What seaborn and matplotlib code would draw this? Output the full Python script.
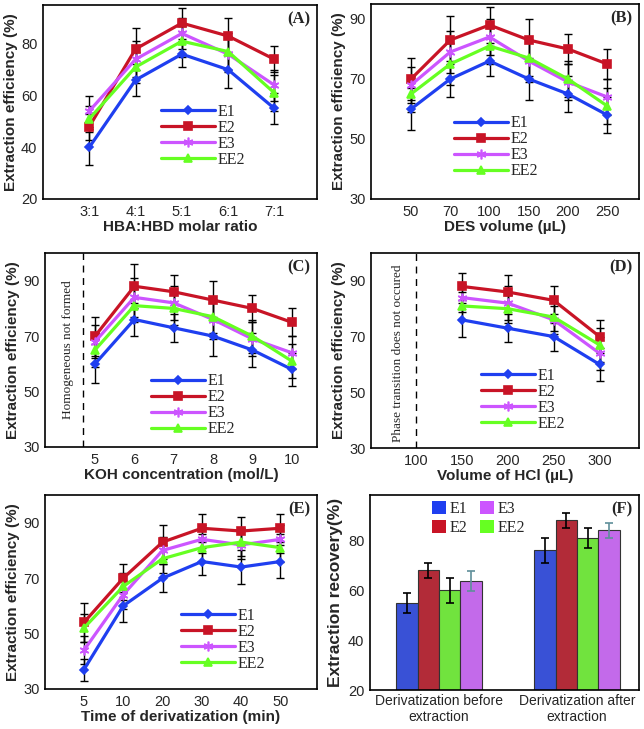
import matplotlib
matplotlib.use("Agg")
import matplotlib.pyplot as plt
import numpy as np
import pandas as pd
import seaborn as sns
from matplotlib.lines import Line2D
from matplotlib.patches import Patch

# ---------------- data ----------------
SERIES = ["E1", "E2", "E3", "EE2"]

# (A) HBA:HBD molar ratio
a_labels = ["3:1", "4:1", "5:1", "6:1", "7:1"]
a_means = {"E1": [40, 66, 76, 70, 55], "E2": [48, 78, 88, 83, 74],
           "E3": [54, 74, 84, 76, 64], "EE2": [51, 71, 81, 77, 61]}
a_errs = {"E1": [7, 6, 5, 7, 6], "E2": [5, 8, 6, 7, 5],
          "E3": [6, 7, 6, 7, 6], "EE2": [5, 6, 6, 7, 7]}

# (B) DES volume
b_labels = ["50", "70", "100", "150", "200", "250"]
b_means = {"E1": [60, 70, 76, 70, 65, 58], "E2": [70, 83, 88, 83, 80, 75],
           "E3": [68, 79, 84, 76, 69, 64], "EE2": [65, 75, 81, 77, 70, 61]}
b_errs = {"E1": [7, 6, 5, 7, 6, 6], "E2": [7, 8, 6, 7, 5, 5],
          "E3": [6, 7, 6, 7, 6, 6], "EE2": [6, 7, 6, 6, 6, 6]}

# (C) KOH concentration
c_x = [5, 6, 7, 8, 9, 10]
c_means = {"E1": [60, 76, 73, 70, 65, 58], "E2": [70, 88, 86, 83, 80, 75],
           "E3": [68, 84, 82, 76, 69, 64], "EE2": [65, 81, 80, 77, 70, 61]}
c_errs = {"E1": [7, 6, 5, 7, 6, 6], "E2": [7, 8, 6, 7, 5, 5],
          "E3": [6, 7, 6, 7, 6, 6], "EE2": [6, 6, 6, 6, 6, 6]}
c_limit = 4.7

# (D) volume of HCl
d_x = [150, 200, 250, 300]
d_means = {"E1": [76, 73, 70, 60], "E2": [88, 86, 83, 70],
           "E3": [84, 82, 76, 64], "EE2": [81, 80, 77, 67]}
d_errs = {"E1": [6, 5, 5, 6], "E2": [5, 6, 5, 6],
          "E3": [5, 6, 5, 6], "EE2": [5, 5, 5, 6]}
d_limit = 100

# (E) time of derivatization
e_labels = ["5", "10", "20", "30", "40", "50"]
e_means = {"E1": [37, 60, 70, 76, 74, 76], "E2": [54, 70, 83, 88, 87, 88],
           "E3": [44, 64, 80, 84, 82, 84], "EE2": [52, 67, 77, 81, 83, 81]}
e_errs = {"E1": [4, 6, 5, 5, 6, 6], "E2": [7, 5, 6, 5, 5, 5],
          "E3": [5, 5, 5, 5, 5, 5], "EE2": [5, 5, 5, 5, 5, 5]}

# (F) derivatization order (bars)
f_groups = ["Derivatization before\nextraction", "Derivatization after\nextraction"]
f_order = ["E1", "E2", "EE2", "E3"]
f_means = {"E1": [55, 76], "E2": [68, 88], "EE2": [60, 81], "E3": [63.5, 84]}
f_errs = {"E1": [4, 5], "E2": [3, 3], "EE2": [5, 4], "E3": [4, 3]}

# ---------------- style ----------------
COLORS = {"E1": "#1f3ff0", "E2": "#c81426", "E3": "#cc55ff", "EE2": "#66ff22"}
MARKERS = {"E1": "D", "E2": "s", "E3": (6, 2, 0), "EE2": "^"}
MSIZE = {"E1": 4, "E2": 5.5, "E3": 7, "EE2": 6}

sns.set_style("ticks")
plt.rcParams["font.family"] = ["Liberation Sans", "DejaVu Sans"]
SERIF = ["Liberation Serif", "DejaVu Serif"]

fig = plt.figure(figsize=(6.44, 7.29), dpi=100)
W, H = 644, 729


def make_axes(left, top, right, bottom):
    return fig.add_axes([left / W, 1 - bottom / H, (right - left) / W, (bottom - top) / H])


def style_axes(ax, tag, xlabel, ylabel, ylim, yticks):
    ax.set_ylim(*ylim)
    ax.set_yticks(yticks)
    ax.set_xlabel(xlabel, fontsize=11, fontweight="bold", labelpad=1)
    ax.set_ylabel(ylabel, fontsize=11, fontweight="bold", labelpad=2)
    ax.tick_params(length=0, labelsize=10.5, pad=4)
    for sp in ax.spines.values():
        sp.set_visible(True)
        sp.set_linewidth(1.2)
        sp.set_color("black")
    ax.text(0.975, 0.965, tag, transform=ax.transAxes, ha="right", va="top",
            family=SERIF, fontweight="bold", fontsize=12)


def line_panel(ax, x, means, errs, legend_at):
    for s in SERIES:
        ax.errorbar(x, means[s], yerr=errs[s], fmt="none", ecolor="black",
                    elinewidth=1, capsize=3, capthick=1, zorder=1)
        sns.lineplot(x=x, y=means[s], ax=ax, color=COLORS[s], lw=2.3,
                     marker=MARKERS[s], markersize=MSIZE[s], markeredgecolor=COLORS[s],
                     markeredgewidth=1.2, zorder=2)
    handles = [Line2D([], [], color=COLORS[s], lw=2.3, marker=MARKERS[s],
                      markersize=MSIZE[s], markeredgecolor=COLORS[s], markeredgewidth=1.2)
               for s in SERIES]
    ax.legend(handles, SERIES, loc="upper left", bbox_to_anchor=legend_at, frameon=False,
              prop={"family": SERIF, "size": 11.5}, handlelength=3.4, handletextpad=0.15,
              labelspacing=0.0, borderaxespad=0, borderpad=0)


# (A)
ax = make_axes(43, 5, 317, 199)
pos = np.arange(len(a_labels))
line_panel(ax, pos, a_means, a_errs, (0.43, 0.49))
ax.set_xticks(pos, a_labels)
ax.set_xlim(-1, len(a_labels) - 0.08)
style_axes(ax, "(A)", "HBA:HBD molar ratio", "Extraction efficiency (%)", (20, 95), [20, 40, 60, 80])

# (B)
ax = make_axes(371, 4, 639, 199)
pos = np.arange(len(b_labels))
line_panel(ax, pos, b_means, b_errs, (0.31, 0.43))
ax.set_xticks(pos, b_labels)
ax.set_xlim(-1.02, len(b_labels) - 0.19)
style_axes(ax, "(B)", "DES volume (\u00b5L)", "Extraction efficiency (%)", (30, 95), [30, 50, 70, 90])

# (C)
ax = make_axes(45, 253, 317, 447)
line_panel(ax, c_x, c_means, c_errs, (0.39, 0.38))
ax.axvline(c_limit, color="black", ls=(0, (5, 4)), lw=1)
ax.set_xticks(c_x)
ax.set_xlim(3.73, 10.64)
ax.text(4.32, 65, "Homogeneous not formed", rotation=90, ha="center", va="center",
        family=SERIF, fontsize=9.5)
style_axes(ax, "(C)", "KOH concentration (mol/L)", "Extraction efficiency (%)", (30, 100), [30, 50, 70, 90])

# (D)
ax = make_axes(371, 253, 639, 448)
line_panel(ax, d_x, d_means, d_errs, (0.41, 0.41))
ax.axvline(d_limit, color="black", ls=(0, (5, 4)), lw=1)
ax.set_xticks([d_limit] + d_x)
ax.set_xlim(51, 343)
ax.text(80, 64, "Phase transition does not occured", rotation=90, ha="center", va="center",
        family=SERIF, fontsize=9.5)
style_axes(ax, "(D)", "Volume of HCl (\u00b5L)", "Extraction efficiency (%)", (30, 100), [30, 50, 70, 90])

# (E)
ax = make_axes(45, 495, 317, 689)
pos = np.arange(len(e_labels))
line_panel(ax, pos, e_means, e_errs, (0.50, 0.42))
ax.set_xticks(pos, e_labels)
ax.set_xlim(-0.99, len(e_labels) - 0.07)
style_axes(ax, "(E)", "Time of derivatization (min)", "Extraction efficiency (%)", (30, 100), [30, 50, 70, 90])

# (F)
ax = make_axes(370, 495, 639, 690)
df = pd.DataFrame([{"group": g, "series": s, "val": f_means[s][i]}
                   for s in f_order for i, g in enumerate(f_groups)])
sns.barplot(data=df, x="group", y="val", hue="series", hue_order=f_order, order=f_groups,
            palette=COLORS, width=0.62, edgecolor="#333333", linewidth=0.8,
            legend=False, ax=ax)
for cont, s in zip(ax.containers, f_order):
    centers = [p.get_x() + p.get_width() / 2 for p in cont]
    ecol = "#5f8f9a" if s == "E3" else "black"
    ax.errorbar(centers, f_means[s], yerr=f_errs[s], fmt="none", ecolor=ecol,
                elinewidth=1.2, capsize=3, capthick=1.2, zorder=3)
ax.set_xlim(-0.5, 1.45)
leg_order = ["E1", "E2", "E3", "EE2"]
handles = [Patch(facecolor=COLORS[s], edgecolor="none") for s in leg_order]
ax.legend(handles, leg_order, loc="upper left", bbox_to_anchor=(0.23, 0.97), ncol=2,
          frameon=False, prop={"family": SERIF, "size": 11.5}, handlelength=0.9,
          handleheight=0.9, handletextpad=0.2, columnspacing=0.8, labelspacing=0.2,
          borderaxespad=0, borderpad=0)
style_axes(ax, "(F)", "", "", (20, 98), [20, 40, 60, 80])
ax.set_ylabel("Extraction recovery(%)", fontsize=12.5, fontweight="bold", labelpad=4)
ax.tick_params(axis="x", labelsize=10, pad=3)

fig.savefig("out.png", dpi=100)
